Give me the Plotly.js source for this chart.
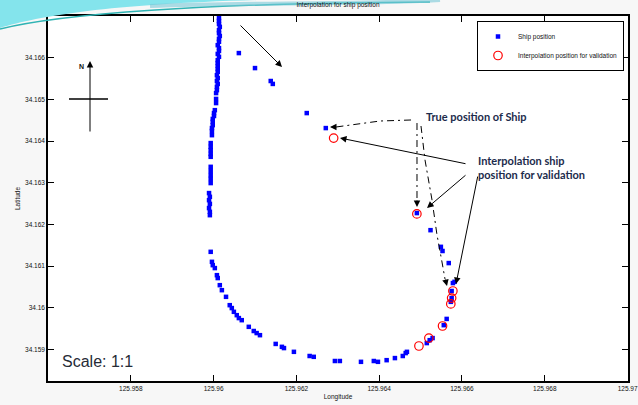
<!DOCTYPE html>
<html>
<head>
<meta charset="utf-8">
<script src="https://cdn.plot.ly/plotly-3.0.1.min.js"></script>
<style>html,body{margin:0;padding:0;background:#f7f7f7;}#chart{width:638px;height:405px;}</style>
</head>
<body>
<div id="chart"></div>
<script>
// ---- data ----
const shipLon = [
125.96013,125.96013,125.96013,125.96015,125.96013,125.96013,125.96015,125.96013,125.96013,125.96010,
125.96013,125.96013,125.96010,125.96013,125.96010,125.96010,125.96010,125.96010,125.96010,125.96008,
125.96010,125.96008,125.96010,125.96008,125.96008,125.96006,125.96006,125.96006,125.96003,125.96001,
125.96001,125.95998,125.95998,125.95998,125.95996,125.95996,125.95996,125.95993,125.95993,125.95993,
125.95993,125.95993,125.95993,125.95993,125.95993,125.95993,125.95993,125.95989,125.95991,125.95989,
125.95991,125.95989,125.95991,125.95991,125.95993,125.95996,125.95998,125.96003,125.96008,125.96010,
125.96015,125.96020,125.96030,125.96039,125.96044,125.96049,125.96056,125.96061,125.96068,125.96085,
125.96097,125.96104,125.96112,125.96150,125.96165,125.96170,125.96194,125.96232,125.96242,125.96293,
125.96305,125.96356,125.96387,125.96397,125.96418,125.96438,125.96457,125.96464,125.96467,125.96515,
125.96522,125.96529,125.96556,125.96563,125.96573,125.96575,125.96575,125.96578,125.96582,125.96568,
125.96553,125.96549,125.96524,125.96491,125.96271,125.96225,125.96143,125.96138,125.96100,125.96061
];
const shipLat = [
34.16695,34.16688,34.16681,34.16674,34.16666,34.16659,34.16652,34.16645,34.16638,34.16630,
34.16623,34.16616,34.16609,34.16602,34.16594,34.16587,34.16580,34.16573,34.16566,34.16558,
34.16551,34.16544,34.16537,34.16530,34.16522,34.16515,34.16501,34.16491,34.16474,34.16467,
34.16460,34.16453,34.16446,34.16438,34.16431,34.16424,34.16414,34.16395,34.16386,34.16378,
34.16369,34.16362,34.16338,34.16328,34.16318,34.16309,34.16299,34.16275,34.16266,34.16258,
34.16249,34.16239,34.16230,34.16222,34.16134,34.16110,34.16102,34.16095,34.16078,34.16071,
34.16054,34.16042,34.16026,34.16006,34.15999,34.15990,34.15982,34.15975,34.15970,34.15954,
34.15944,34.15939,34.15934,34.15913,34.15906,34.15903,34.15894,34.15884,34.15882,34.15872,
34.15872,34.15870,34.15872,34.15870,34.15874,34.15879,34.15884,34.15891,34.15894,34.15915,
34.15922,34.15927,34.15958,34.15973,34.16014,34.16023,34.16040,34.16059,34.16062,34.16107,
34.16136,34.16146,34.16186,34.16227,34.16431,34.16467,34.16537,34.16544,34.16575,34.16611
];
const interpLon = [125.96290,125.96491,125.96578,125.96575,125.96573,125.96553,125.96520,125.96496];
const interpLat = [34.16407,34.16225,34.16040,34.16023,34.16009,34.15956,34.15927,34.15908];

const xTickVals = [125.958,125.960,125.962,125.964,125.966,125.968,125.970];
const xTickText = ["125.958","125.96","125.962","125.964","125.966","125.968","125.97"];
const yTickVals = [34.159,34.160,34.161,34.162,34.163,34.164,34.165,34.166];
const yTickText = ["34.159","34.16","34.161","34.162","34.163","34.164","34.165","34.166"];

const seriesNames = ["Ship position","Interpolation position for validation"];
const chartTitle = "Interpolation for ship position";
const xTitle = "Longitude", yTitle = "Latitude";
const labelTrue = "True position of Ship";
const labelInterp = "Interpolation ship<br>position for validation";
const labelScale = "Scale: 1:1";

// ---- layout helpers: pixel position -> paper fraction ----
const L = 48, R = 628, T = 16, B = 381;
const px = x => (x - L) / (R - L);
const py = y => (B - y) / (B - T);
function pathOf(pts) {
  return pts.map((p, i) => (i ? 'L' : 'M') + px(p[0]).toFixed(4) + ',' + py(p[1]).toFixed(4)).join(' ');
}
function curveOf(p0, c1, c2, p1) {
  const f = p => px(p[0]).toFixed(4) + ',' + py(p[1]).toFixed(4);
  return 'M' + f(p0) + ' C' + f(c1) + ' ' + f(c2) + ' ' + f(p1);
}
function arrow(hx, hy, tx, ty) {
  return {xref: 'paper', yref: 'paper', x: px(hx), y: py(hy), ax: tx - hx, ay: ty - hy,
          text: '', showarrow: true, arrowhead: 2, arrowsize: 1.3, arrowwidth: 1, arrowcolor: '#000', standoff: 0, startstandoff: 0};
}
const DASHDOT = '7px,4px,2px,4px';
function dline(pts) {
  return {type: 'path', xref: 'paper', yref: 'paper', path: pathOf(pts), line: {color: '#000', width: 1, dash: DASHDOT}};
}

const traces = [
  {x: shipLon, y: shipLat, type: 'scatter', mode: 'markers', name: seriesNames[0],
   marker: {symbol: 'square', size: 4.5, color: '#0000ff', line: {width: 0}}},
  {x: interpLon, y: interpLat, type: 'scatter', mode: 'markers', name: seriesNames[1],
   marker: {symbol: 'circle-open', size: 8.5, color: '#ff0000', line: {width: 1.2, color: '#ff0000'}}}
];

const axisCommon = {showgrid: false, zeroline: false, showline: true, linecolor: '#000', linewidth: 1.5,
  mirror: 'ticks', ticks: 'inside', ticklen: 6, tickwidth: 1.3, tickcolor: '#000',
  tickfont: {family: 'Liberation Sans, Arial', size: 6.5, color: '#111'}, tickmode: 'array'};

const layout = {
  width: 638, height: 405,
  paper_bgcolor: '#f7f7f7', plot_bgcolor: '#ffffff',
  margin: {l: L, r: 638 - R, t: T, b: 405 - B, pad: 0},
  showlegend: true,
  title: {text: chartTitle, font: {family: 'Liberation Sans, Arial', size: 6.5, color: '#111'},
          xref: 'paper', x: 0.5, xanchor: 'center', yref: 'container', y: 1 - 5 / 405, yanchor: 'middle'},
  xaxis: Object.assign({}, axisCommon, {range: [125.956, 125.97001], tickvals: xTickVals, ticktext: xTickText,
          title: {text: xTitle, font: {family: 'Liberation Sans, Arial', size: 6.5, color: '#111'}, standoff: 4}}),
  yaxis: Object.assign({}, axisCommon, {range: [34.15824, 34.167], tickvals: yTickVals, ticktext: yTickText,
          title: {text: yTitle, font: {family: 'Liberation Sans, Arial', size: 6.5, color: '#111'}, standoff: 4}}),
  legend: {x: px(624), xanchor: 'right', y: py(21), yanchor: 'top', bgcolor: '#ffffff',
           bordercolor: '#000', borderwidth: 1, font: {family: 'Liberation Sans, Arial', size: 6.5, color: '#111'},
           itemwidth: 30, tracegroupgap: 0},
  shapes: [
    // decorative slide swoosh
    {type: 'path', xref: 'paper', yref: 'paper',
     path: 'M' + px(0) + ',' + py(0) + ' L' + px(0) + ',' + py(28) + ' C' + px(40) + ',' + py(16) + ' ' + px(110) + ',' + py(4) + ' ' + px(260) + ',' + py(0) + ' Z',
     fillcolor: '#84e4ec', line: {width: 0}},
    {type: 'path', xref: 'paper', yref: 'paper',
     path: curveOf([0, 29], [60, 14], [200, 3], [430, 2]),
     line: {color: '#2fb3b3', width: 1.5}},
    {type: 'path', xref: 'paper', yref: 'paper',
     path: curveOf([150, 6], [250, 2], [350, 5], [440, 0]),
     line: {color: 'rgba(120,200,215,0.6)', width: 4}},
    // north indicator cross
    {type: 'line', xref: 'paper', yref: 'paper', x0: px(69), y0: py(99), x1: px(108), y1: py(99), line: {color: '#000', width: 1.3}},
    // dash-dot leader lines from "True position of Ship"
    dline([[411, 120], [380, 121], [336, 127]]),
    dline([[417, 123], [417, 202]]),
    dline([[421, 126], [425, 160], [432, 200], [437, 235], [442, 262], [445, 279]])
  ],
  annotations: [
    arrow(282, 67, 239, 24),
    arrow(90, 61, 90, 133),
    arrow(330, 127, 338, 127),
    arrow(417, 207, 417, 199),
    arrow(447, 286, 445, 278),
    arrow(340, 138, 467, 164),
    arrow(427, 208, 467, 174),
    arrow(456, 284, 478, 175),
    {xref: 'paper', yref: 'paper', x: px(81), y: py(66), text: '<b>N</b>', showarrow: false,
     font: {family: 'Liberation Sans, Arial', size: 7, color: '#111'}, xanchor: 'center', yanchor: 'middle'},
    {xref: 'paper', yref: 'paper', x: px(424), y: py(117), text: '<b>' + labelTrue + '</b>', showarrow: false,
     font: {family: 'Lato, Noto Sans', size: 11, color: '#1c2b4c'}, xanchor: 'left', yanchor: 'middle'},
    {xref: 'paper', yref: 'paper', x: px(476), y: py(168), text: '<b>' + labelInterp + '</b>', showarrow: false, align: 'left',
     font: {family: 'Lato, Noto Sans', size: 11, color: '#1c2b4c'}, xanchor: 'left', yanchor: 'middle'},
    {xref: 'paper', yref: 'paper', x: px(60), y: py(361), text: labelScale, showarrow: false,
     font: {family: 'Liberation Sans, Arial', size: 16, color: '#262b36'}, xanchor: 'left', yanchor: 'middle'}
  ]
};

Plotly.newPlot('chart', traces, layout, {displayModeBar: false, responsive: false});
</script>
</body>
</html>
